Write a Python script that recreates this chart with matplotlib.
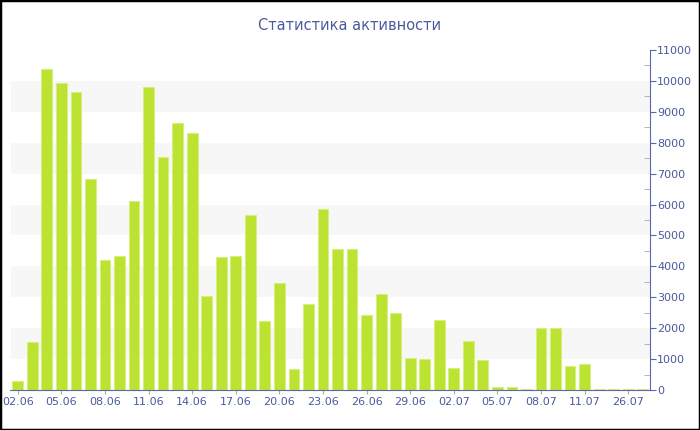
import matplotlib
matplotlib.use('Agg')
import matplotlib.pyplot as plt
from matplotlib.patches import Rectangle
from matplotlib.ticker import MultipleLocator

# daily activity values
dates = ['02.06', '03.06', '04.06', '05.06', '06.06', '07.06', '08.06', '09.06',
         '10.06', '11.06', '12.06', '13.06', '14.06', '15.06', '16.06', '17.06',
         '18.06', '19.06', '20.06', '21.06', '22.06', '23.06', '24.06', '25.06',
         '26.06', '27.06', '28.06', '29.06', '30.06', '01.07', '02.07', '03.07',
         '04.07', '05.07', '06.07', '07.07', '08.07', '09.07', '10.07', '11.07',
         '12.07', '25.07', '26.07', '27.07']
values = [300, 1540, 10390, 9925, 9655, 6820, 4200, 4340,
          6100, 9805, 7530, 8640, 8305, 3030, 4290, 4340,
          5650, 2230, 3450, 680, 2780, 5870, 4560, 4560,
          2420, 3100, 2490, 1025, 1015, 2265, 700, 1575,
          970, 86, 86, 40, 2005, 2005, 780, 830,
          20, 20, 20, 30]

text_col = '#4a5a9c'
axis_col = '#5a6aa8'

fig = plt.figure(figsize=(7, 4.3), dpi=100)
ax = fig.add_axes([0.015, 0.093, 0.9136, 0.7907])

x = list(range(len(values)))

# alternating background bands
for lo in range(1000, 11000, 2000):
    ax.axhspan(lo, lo + 1000, color='#f7f7f7', zorder=0, lw=0)

ax.bar(x, values, width=0.74, color='#bce232', edgecolor='#d6ef80',
       linewidth=0.8, zorder=2)

ax.set_xlim(-0.5, len(values) - 0.5)
ax.set_ylim(0, 11000)

ax.set_xticks(x[::3])
ax.set_xticklabels(dates[::3])

ax.yaxis.tick_right()
ax.yaxis.set_major_locator(MultipleLocator(1000))
ax.yaxis.set_minor_locator(MultipleLocator(500))
ax.tick_params(axis='y', which='major', direction='out', length=4,
               color=axis_col, labelcolor=text_col, labelsize=8, pad=1)
ax.tick_params(axis='y', which='minor', direction='in', length=4,
               color='#aaaaaa')
ax.tick_params(axis='x', which='major', direction='out', length=3,
               color='#aaaaaa', labelcolor=text_col, labelsize=8, pad=2)

for s in ['top', 'left']:
    ax.spines[s].set_visible(False)
ax.spines['right'].set_color(axis_col)
ax.spines['bottom'].set_color(axis_col)

fig.text(0.5, 0.94, 'Статистика активности', ha='center', va='center',
         fontsize=10.5, color=text_col)

# outer frame
fig.patches.append(Rectangle((0, 0), 1, 1, transform=fig.transFigure,
                             fill=False, edgecolor='black', linewidth=2.5))

fig.savefig('out.png', dpi=100)
